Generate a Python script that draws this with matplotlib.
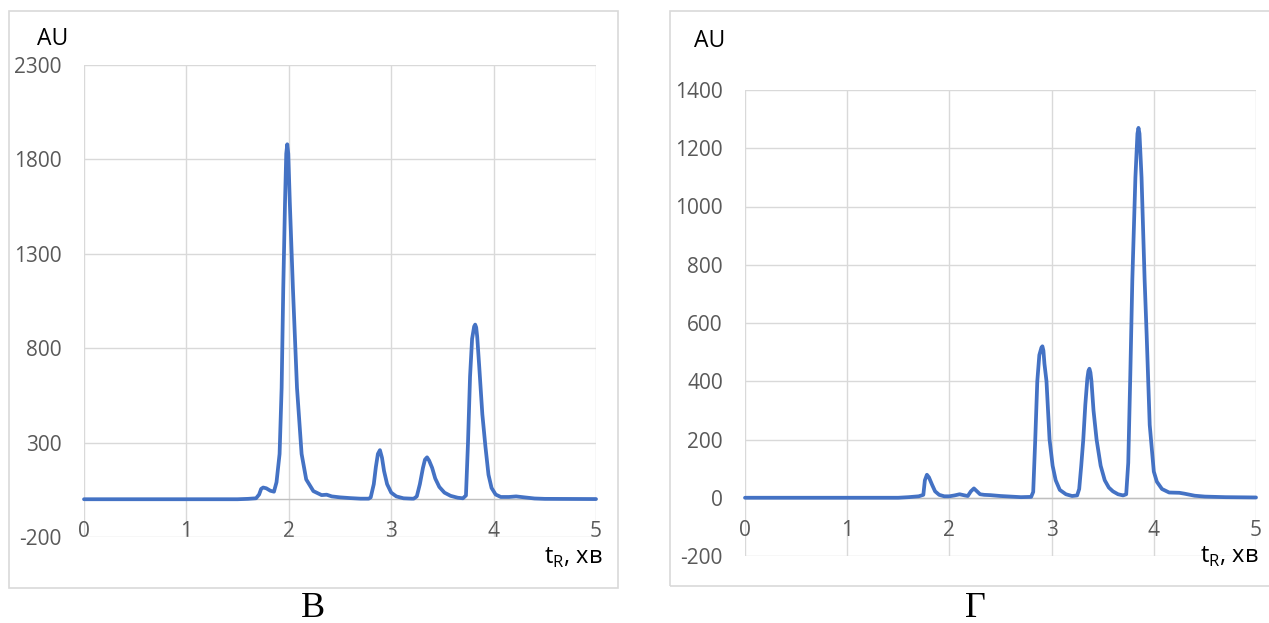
import matplotlib
matplotlib.use("Agg")
import matplotlib.pyplot as plt
from matplotlib.patches import Rectangle

# ---------------- data ----------------
# Chart "В"
x_v = [0.0, 1.50, 1.60, 1.68, 1.71, 1.73, 1.75, 1.78, 1.82, 1.855, 1.88, 1.91, 1.93,
       1.946, 1.963, 1.975, 1.985, 1.995, 2.01, 2.04, 2.08, 2.125, 2.17, 2.24, 2.32,
       2.37, 2.42, 2.50, 2.60, 2.70, 2.78, 2.80, 2.83, 2.85, 2.87, 2.89, 2.91, 2.93,
       2.96, 3.00, 3.05, 3.12, 3.20, 3.22, 3.25, 3.28, 3.31, 3.33, 3.35, 3.37, 3.40,
       3.43, 3.47, 3.52, 3.58, 3.65, 3.70, 3.73, 3.75, 3.77, 3.79, 3.81, 3.82, 3.83,
       3.84, 3.86, 3.89, 3.92, 3.95, 3.98, 4.02, 4.07, 4.15, 4.22, 4.30, 4.40, 4.50,
       5.00]
y_v = [0, 0, 2, 5, 25, 55, 62, 58, 45, 40, 90, 240, 590,
       1120, 1570, 1830, 1880, 1830, 1570, 1120, 590, 240, 105, 43, 22,
       24, 15, 10, 6, 3, 3, 10, 80, 170, 240, 260, 220, 150,
       80, 35, 15, 5, 3, 3, 15, 80, 166, 210, 222, 205, 166,
       110, 65, 35, 18, 8, 5, 20, 300, 650, 850, 915, 925, 910,
       860, 700, 450, 280, 130, 60, 25, 12, 12, 15, 10, 4, 2,
       1]

# Chart "Г"
x_g = [0.0, 1.50, 1.60, 1.70, 1.745, 1.76, 1.78, 1.80, 1.83, 1.86, 1.90, 1.95, 2.00,
       2.05, 2.10, 2.15, 2.18, 2.21, 2.24, 2.27, 2.30, 2.34, 2.40, 2.50, 2.60, 2.70,
       2.80, 2.82, 2.84, 2.86, 2.88, 2.90, 2.91, 2.92, 2.93, 2.95, 2.98, 3.01, 3.04,
       3.08, 3.14, 3.20, 3.25, 3.27, 3.29, 3.31, 3.33, 3.35, 3.36, 3.37, 3.38, 3.39,
       3.41, 3.44, 3.48, 3.52, 3.56, 3.60, 3.65, 3.70, 3.73, 3.75, 3.77, 3.79, 3.82,
       3.84, 3.85, 3.86, 3.88, 3.91, 3.93, 3.96, 4.00, 4.03, 4.08, 4.15, 4.25, 4.30,
       4.40, 4.50, 4.70, 5.00]
y_g = [0, 0, 2, 5, 10, 60, 79, 70, 45, 22, 10, 5, 5,
       8, 12, 8, 6, 22, 32, 22, 12, 10, 9, 6, 4, 2,
       3, 20, 200, 400, 490, 515, 520, 505, 460, 400, 200, 110, 60,
       27, 12, 6, 8, 30, 110, 200, 320, 410, 435, 443, 430, 400,
       300, 200, 110, 60, 35, 22, 12, 8, 12, 120, 420, 750, 1100,
       1250, 1270, 1250, 1100, 750, 560, 250, 90, 55, 30, 18, 17, 14,
       7, 4, 2, 1]

xticks = [0, 1, 2, 3, 4, 5]
yticks_v = [-200, 300, 800, 1300, 1800, 2300]
yticks_g = [-200, 0, 200, 400, 600, 800, 1000, 1200, 1400]

panel_labels = ["В", "Г"]
y_label = "AU"
x_label = "t$_\\mathregular{R}$, хв"

# ---------------- style ----------------
W, H = 1269, 623
LINE = "#4472C4"
GRID = "#d9d9d9"
AXIS = "#bfbfbf"
TICK = "#595959"
FONT = ["Open Sans", "DejaVu Sans"]
plt.rcParams["font.family"] = FONT

fig = plt.figure(figsize=(W / 100, H / 100), dpi=100)
fig.patch.set_facecolor("white")


def px_axes(x0, y0, x1, y1):
    return fig.add_axes([x0 / W, 1 - y1 / H, (x1 - x0) / W, (y1 - y0) / H])


def frame(x0, y0, x1, y1):
    fig.patches.append(Rectangle((x0 / W, 1 - y1 / H), (x1 - x0) / W, (y1 - y0) / H,
                                 transform=fig.transFigure, fill=False,
                                 edgecolor=GRID, linewidth=1.2))


def draw(ax, xs, ys, yticks):
    ax.plot(xs, ys, color=LINE, linewidth=2.7, solid_joinstyle="round",
            solid_capstyle="round", zorder=3, clip_on=False)
    ax.set_xlim(0, 5)
    ax.set_ylim(yticks[0], yticks[-1])
    ax.set_xticks(xticks)
    ax.set_yticks(yticks)
    ax.set_yticklabels([str(t) for t in yticks])
    ax.grid(True, color=GRID, linewidth=1.0, zorder=0)
    ax.set_axisbelow(True)
    for s in ["top", "right", "left"]:
        ax.spines[s].set_visible(False)
    ax.spines["bottom"].set_position(("data", 0))
    ax.spines["bottom"].set_color(AXIS)
    ax.spines["bottom"].set_linewidth(1.0)
    ax.spines["bottom"].set_zorder(1)
    ax.tick_params(axis="both", length=0, labelsize=15, labelcolor=TICK)
    ax.tick_params(axis="y", pad=16)
    ax.tick_params(axis="x", pad=16)
    ax.set_facecolor("none")


frame(9, 11, 618, 588)
frame(670, 11, 1290, 586)

ax1 = px_axes(84, 65, 596, 537)
draw(ax1, x_v, y_v, yticks_v)
ax2 = px_axes(745, 90, 1256, 556)
draw(ax2, x_g, y_g, yticks_g)

fig.text(53 / W, 1 - 39 / H, y_label, fontsize=16.5, color="black", ha="center", va="center")
fig.text(710 / W, 1 - 41 / H, y_label, fontsize=16.5, color="black", ha="center", va="center")
fig.text(603 / W, 1 - 564 / H, x_label, fontsize=17, color="black", ha="right", va="baseline")
fig.text(1200 / W, 1 - 563 / H, x_label, fontsize=17, color="black", ha="left", va="baseline")

fig.text(313 / W, 1 - 617 / H, panel_labels[0], fontsize=26, family="Liberation Serif",
         color="black", ha="center", va="baseline")
fig.text(975 / W, 1 - 617 / H, panel_labels[1], fontsize=26, family="Liberation Serif",
         color="black", ha="center", va="baseline")

fig.savefig("out.png", dpi=100, facecolor="white")
